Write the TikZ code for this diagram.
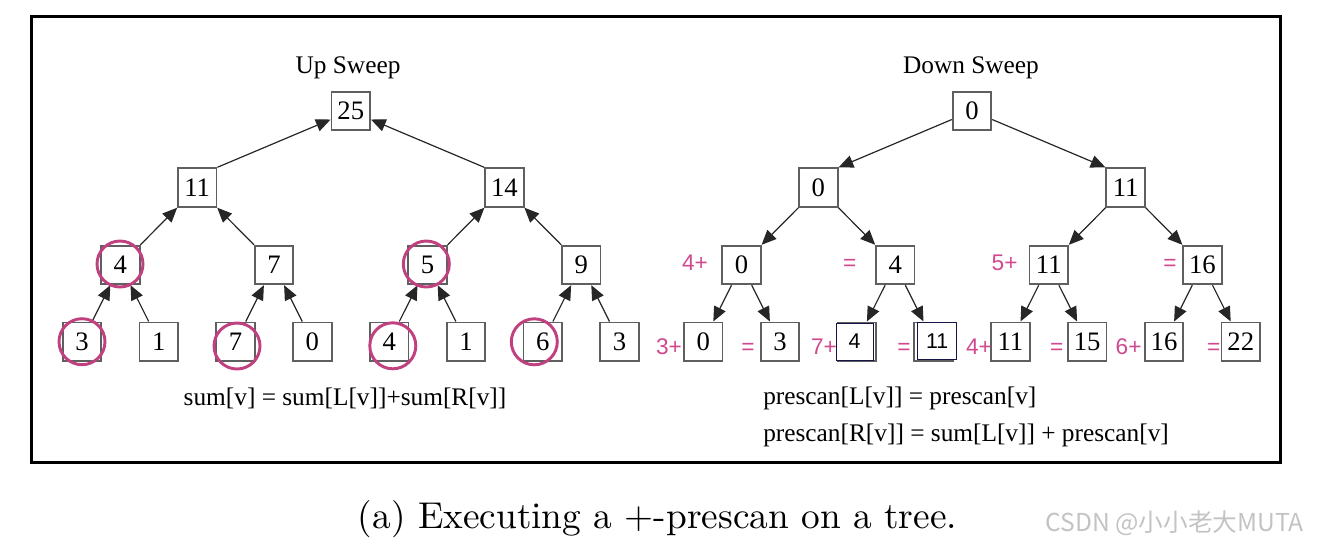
\documentclass[tikz,border=0pt]{standalone}
\usepackage{fontspec}
\setmainfont{Liberation Serif}
\newfontfamily\lsans{Liberation Sans}
\newfontfamily\cjk{Noto Sans CJK SC}
\usetikzlibrary{arrows.meta,calc}
\font\capfont="[lmroman10-regular]:mapping=tex-text" at 28pt
\definecolor{pinkc}{RGB}{192,64,128}
\definecolor{pinkt}{RGB}{210,72,142}
\definecolor{boxgray}{RGB}{95,95,95}
\definecolor{navyb}{RGB}{20,20,70}
\definecolor{wmgray}{RGB}{195,195,195}
\begin{document}
\begin{tikzpicture}[x=0.75pt,y=-0.75pt,
  nbox/.style={draw=boxgray,fill=white,line width=1.3pt,minimum width=29pt,minimum height=29pt,inner sep=0pt,font=\fontsize{20}{20}\selectfont},
  obox/.style={draw=navyb,fill=white,line width=0.75pt,inner sep=0pt,font=\lsans\fontsize{16}{16}\selectfont},
  edge/.style={line width=0.9pt,draw=black!85,-{Triangle[length=11pt,width=9.5pt]}},
  ring/.style={draw=pinkc,line width=2.2pt,circle,minimum size=34.5pt,inner sep=0pt},
  plab/.style={text=pinkt,font=\lsans\fontsize{17}{17}\selectfont,anchor=base,inner sep=0pt},
  ttl/.style={font=\fontsize{19}{19}\selectfont,inner sep=0pt,anchor=base}
]
\useasboundingbox (0,0) rectangle (1323,547);
\draw[line width=1.9pt] (31.5,16.5) rectangle (1280.5,462.5);

% ---------------- Up sweep ----------------
\node[ttl] (uttl) at (348,73.3) {Up Sweep};
\node[nbox] (ur) at (350.8,111) {25};
\node[nbox] (ua1) at (197.2,187.5) {11};
\node[nbox] (ua2) at (504.4,187.5) {14};
\node[nbox] (ub1) at (120.4,265) {4};
\node[nbox] (ub2) at (274,265) {7};
\node[nbox] (ub3) at (427.6,265) {5};
\node[nbox] (ub4) at (581.2,265) {9};
\node[nbox] (uc1) at (82,341.7) {3};
\node[nbox] (uc2) at (158.8,341.7) {1};
\node[nbox] (uc3) at (235.6,341.7) {7};
\node[nbox] (uc4) at (312.4,341.7) {0};
\node[nbox] (uc5) at (389.2,341.7) {4};
\node[nbox] (uc6) at (466,341.7) {1};
\node[nbox] (uc7) at (542.8,341.7) {6};
\node[nbox] (uc8) at (619.6,341.7) {3};

\draw[edge] (ua1.north east) -- (ur);
\draw[edge] (ua2.north west) -- (ur);
\draw[edge] (ub1) -- (ua1);
\draw[edge] (ub2) -- (ua1);
\draw[edge] (ub3) -- (ua2);
\draw[edge] (ub4) -- (ua2);
\draw[edge] (uc1) -- (ub1);
\draw[edge] (uc2) -- (ub1);
\draw[edge] (uc3) -- (ub2);
\draw[edge] (uc4) -- (ub2);
\draw[edge] (uc5) -- (ub3);
\draw[edge] (uc6) -- (ub3);
\draw[edge] (uc7) -- (ub4);
\draw[edge] (uc8) -- (ub4);

\node[ttl] (usum) at (345,405) {sum[v] = sum[L[v]]+sum[R[v]]};

\node[ring] (r1) at (120,264) {};
\node[ring] (r2) at (426.3,264) {};
\node[ring] (r3) at (82,341.7) {};
\node[ring] (r4) at (237,346) {};
\node[ring] (r5) at (392.8,345.8) {};
\node[ring] (r6) at (534.3,341.8) {};

% ---------------- Down sweep ----------------
\node[ttl] (dttl) at (971,73.3) {Down Sweep};
\node[nbox] (dr) at (972,111) {0};
\node[nbox] (da1) at (818.4,187.5) {0};
\node[nbox] (da2) at (1125.6,187.5) {11};
\node[nbox] (db1) at (741.6,265) {0};
\node[nbox] (db2) at (895.2,265) {4};
\node[nbox] (db3) at (1048.8,265) {11};
\node[nbox] (db4) at (1202.4,265) {16};
\node[nbox] (dc1) at (703.2,341.7) {0};
\node[nbox] (dc2) at (780,341.7) {3};
\node[nbox] (dc3) at (856.8,341.7) {};
\node[nbox] (dc4) at (933.6,341.7) {};
\node[nbox] (dc5) at (1010.4,341.7) {11};
\node[nbox] (dc6) at (1087.2,341.7) {15};
\node[nbox] (dc7) at (1164,341.7) {16};
\node[nbox] (dc8) at (1240.8,341.7) {22};

\draw[edge] (dr) -- (da1.north east);
\draw[edge] (dr) -- (da2.north west);
\draw[edge] (da1) -- (db1);
\draw[edge] (da1) -- (db2);
\draw[edge] (da2) -- (db3);
\draw[edge] (da2) -- (db4);
\draw[edge] (db1) -- (dc1);
\draw[edge] (db1) -- (dc2);
\draw[edge] (db2) -- (dc3);
\draw[edge] (db2) -- (dc4);
\draw[edge] (db3) -- (dc5);
\draw[edge] (db3) -- (dc6);
\draw[edge] (db4) -- (dc7);
\draw[edge] (db4) -- (dc8);

\node[obox,minimum width=27.75pt,minimum height=27.75pt] (ov1) at (854.5,341.5) {4};
\node[obox,minimum width=29.25pt,minimum height=28pt] (ov2) at (937.2,341.3) {11};

\node[plab] (p1) at (695,270) {4+};
\node[plab] (p2) at (849.7,270) {=};
\node[plab] (p3) at (1004.6,270) {5+};
\node[plab] (p4) at (1170,270) {=};
\node[plab] (p5) at (669,354) {3+};
\node[plab] (p6) at (748,354) {=};
\node[plab] (p7) at (824,354) {7+};
\node[plab] (p8) at (904,354) {=};
\node[plab] (p9) at (979,354) {4+};
\node[plab] (p10) at (1056.7,354) {=};
\node[plab] (p11) at (1128.6,354) {6+};
\node[plab] (p12) at (1213.8,354) {=};

\node[ttl,anchor=base west] (dl1) at (763,404.3) {prescan[L[v]] = prescan[v]};
\node[ttl,anchor=base west] (dl2) at (763,441.7) {prescan[R[v]] = sum[L[v]] + prescan[v]};

% ---------------- Caption ----------------
\node[inner sep=0pt,anchor=base] (cap) at (657.5,528) {\capfont (a) Executing a +-prescan on a tree.};
\node[inner sep=0pt,anchor=base west,text=wmgray,font=\cjk\fontsize{18.5}{18.5}\selectfont] (wm) at (1045,531) {CSDN @小小老大MUTA};
\end{tikzpicture}
\end{document}
